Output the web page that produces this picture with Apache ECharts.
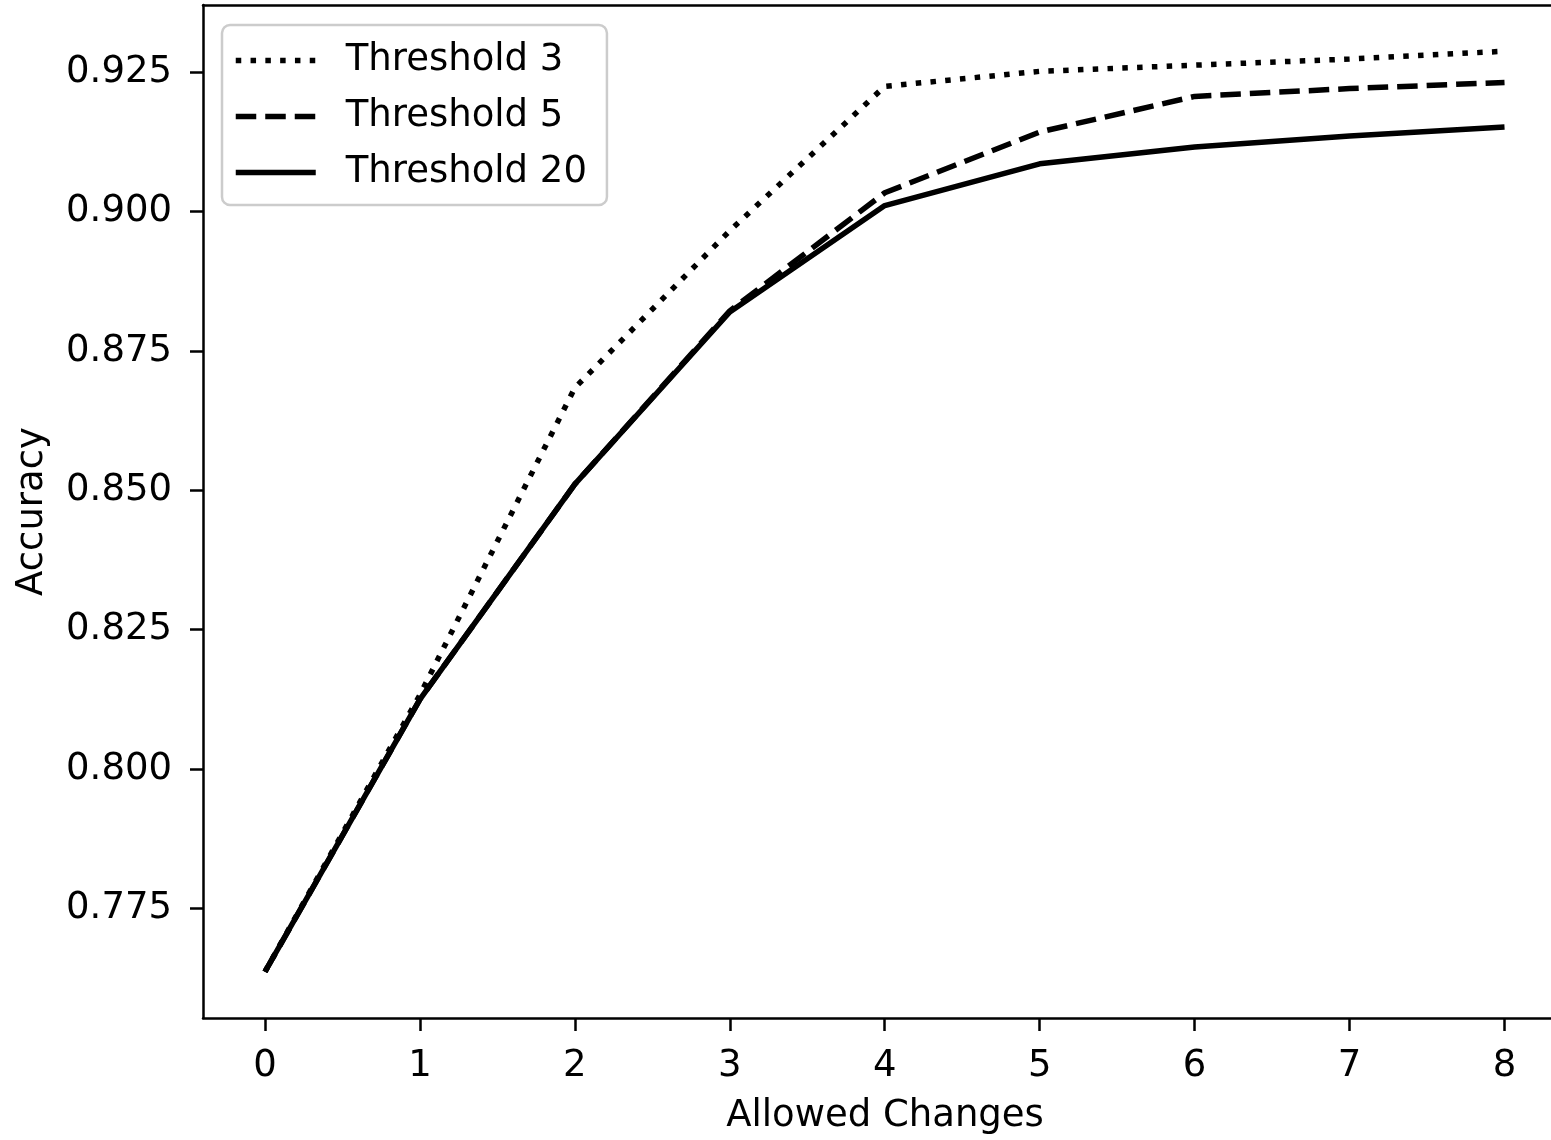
<!DOCTYPE html>
<html>
<head>
<meta charset="utf-8">
<script src="https://cdn.jsdelivr.net/npm/echarts@6/dist/echarts.min.js"></script>
<style>
  html, body { margin: 0; padding: 0; background: #fff; }
  #main { width: 1551px; height: 1140px; }
</style>
</head>
<body>
<div id="main"></div>
<script>
// allowed changes (x) and accuracy per threshold
var changes = [0, 1, 2, 3, 4, 5, 6, 7, 8];
var threshold3 = [0.7636, 0.8133, 0.8684, 0.8966, 0.9225, 0.9252, 0.9263, 0.9274, 0.9288];
var threshold5 = [0.7636, 0.8125, 0.8511, 0.8822, 0.9034, 0.9143, 0.9207, 0.9221, 0.9232];
var threshold20 = [0.7636, 0.8125, 0.8511, 0.8820, 0.9011, 0.9086, 0.9116, 0.9136, 0.9152];
var yTicks = [0.775, 0.8, 0.825, 0.85, 0.875, 0.9, 0.925];
var xTicks = [0, 1, 2, 3, 4, 5, 6, 7, 8];

var font = 'DejaVu Sans';

function pairs(arr) {
	var res = [];
	for (var i = 0; i < changes.length; i++) {
		res.push([changes[i], arr[i]]);
	}
	return res;
}

var chart = echarts.init(document.getElementById('main'));
// the right spine of the source sits just past the page edge, so x runs to 8.3 at the edge
var option = {
	animation: false,
	grid: {
		left: 203,
		top: 5,
		right: 0,
		bottom: 118
	},
	legend: {
		orient: 'vertical',
		left: 222,
		top: 25,
		padding: [17, 20, 14, 11],
		itemWidth: 80,
		itemHeight: 20,
		itemGap: 19,
		borderColor: '#cccccc',
		borderWidth: 2.5,
		borderRadius: 8,
		backgroundColor: 'rgba(255,255,255,0.8)',
		itemStyle: { opacity: 0 },
		lineStyle: { width: 5.5 },
		textStyle: {
			fontFamily: font,
			fontSize: 37,
			color: '#000',
			lineHeight: 37,
			padding: [0, 0, 0, 25]
		},
		data: ['Threshold 3', 'Threshold 5', 'Threshold 20']
	},
	xAxis: [{
		type: 'value',
		min: -0.4,
		max: 8.3,
		name: 'Allowed Changes',
		nameLocation: 'middle',
		nameGap: 80,
		nameTextStyle: { fontFamily: font, fontSize: 37, color: '#000', padding: [0, 0, 0, 16] },
		splitLine: { show: false },
		axisLine: { show: true, onZero: false, lineStyle: { color: '#000', width: 2.5 } },
		axisTick: { show: true, length: 13, lineStyle: { color: '#000', width: 2.5 }, customValues: xTicks },
		axisLabel: { fontFamily: font, fontSize: 37, color: '#000', margin: 30, customValues: xTicks }
	}, {
		type: 'value',
		position: 'top',
		min: -0.4,
		max: 8.3,
		splitLine: { show: false },
		axisLine: { show: true, onZero: false, lineStyle: { color: '#000', width: 2.5 } },
		axisTick: { show: false },
		axisLabel: { show: false }
	}],
	yAxis: {
		type: 'value',
		min: 0.7553,
		max: 0.9371,
		name: 'Accuracy',
		nameLocation: 'middle',
		nameGap: 152,
		nameTextStyle: { fontFamily: font, fontSize: 37, color: '#000' },
		splitLine: { show: false },
		axisLine: { show: true, onZero: false, lineStyle: { color: '#000', width: 2.5 } },
		axisTick: { show: true, length: 13, lineStyle: { color: '#000', width: 2.5 }, customValues: yTicks },
		axisLabel: {
			fontFamily: font, fontSize: 37, color: '#000', margin: 31,
			customValues: yTicks,
			formatter: function (v) { return v.toFixed(3); }
		}
	},
	series: [
		{
			name: 'Threshold 3',
			type: 'line',
			symbol: 'none',
			data: pairs(threshold3),
			lineStyle: { color: '#000', width: 5.5, type: [5.5, 9.3], cap: 'butt' },
			itemStyle: { color: '#000' }
		},
		{
			name: 'Threshold 5',
			type: 'line',
			symbol: 'none',
			data: pairs(threshold5),
			lineStyle: { color: '#000', width: 5.5, type: [20.5, 9], cap: 'butt' },
			itemStyle: { color: '#000' }
		},
		{
			name: 'Threshold 20',
			type: 'line',
			symbol: 'none',
			data: pairs(threshold20),
			lineStyle: { color: '#000', width: 5.5, type: 'solid' },
			itemStyle: { color: '#000' }
		}
	]
};
chart.setOption(option);
</script>
</body>
</html>
